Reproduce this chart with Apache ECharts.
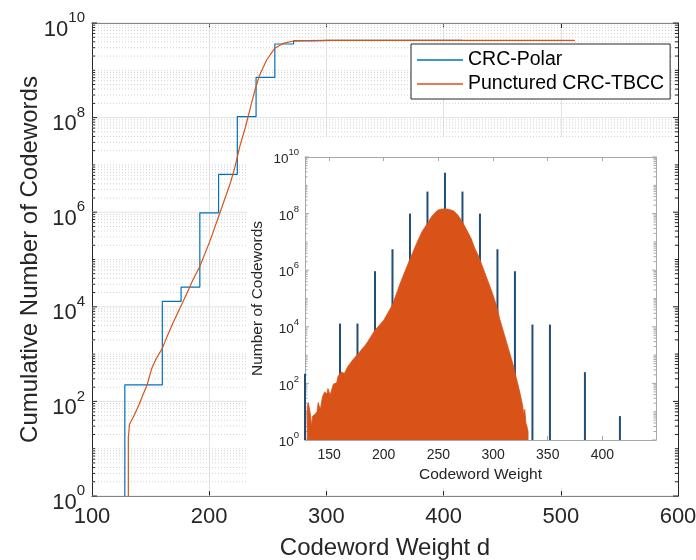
<!DOCTYPE html>
<html><head><meta charset="utf-8">
<script src="https://cdn.jsdelivr.net/npm/echarts/dist/echarts.min.js"></script>
<style>html,body{margin:0;padding:0;background:#fff}#c{width:696px;height:560px}</style>
</head><body><div id="c"></div>
<script>
// ---------- data ----------
const mainXTicks = [100, 200, 300, 400, 500, 600];
const insetXTicks = [150, 200, 250, 300, 350, 400];
const logMajorTicks = [1, 1e2, 1e4, 1e6, 1e8, 1e10];

// Main plot: cumulative number of codewords (CRC-Polar, staircase)
const polarCumWeight = [128, 128, 160, 176, 192, 208, 224, 240, 256, 272, 288, 304, 320, 336, 352, 384, 416];
const polarCumValue  = [1, 224, 13000, 26000, 970000, 6.3e6, 1.05e8, 7.1e8, 3.6e9, 4.2e9, 4.28e9, 4.29e9, 4.29e9, 4.29e9, 4.29e9, 4.29e9, 4.29e9];

// Main plot: cumulative number of codewords (Punctured CRC-TBCC)
const tbccCumWeight = [131, 131, 132, 136, 140, 144, 147, 151, 155, 160, 164, 169, 175, 181, 186, 192, 201, 209, 218, 222, 226, 231, 235, 239, 243, 249, 256, 263, 272, 280, 300, 512];
const tbccCumValue  = [1, 17, 33, 51, 84, 148, 223, 500, 815, 1320, 2340, 4470, 9300, 19400, 37000, 71000, 2.6e5, 9.5e5, 4.1e6, 9.1e6, 2.4e7, 6.4e7, 1.57e8, 3.8e8, 7.9e8, 1.65e9, 2.93e9, 3.7e9, 4.17e9, 4.27e9, 4.29e9, 4.29e9];

// Inset: weight spectrum of CRC-Polar
const polarSpecWeight = [128, 160, 176, 192, 208, 224, 240, 256, 272, 288, 304, 320, 336, 352, 384, 416];
const polarSpecCount  = [220, 13000, 13000, 9.2e5, 5.5e6, 1.0e8, 6.0e8, 2.8e9, 6.0e8, 1.0e8, 5.5e6, 9.2e5, 12000, 12000, 250, 7];

// Inset: weight spectrum of Punctured CRC-TBCC (envelope)
const tbccSpecWeight = [130, 130, 131, 133, 134, 135, 137, 139, 140, 142, 144, 146, 148, 149, 151, 154, 157, 158, 161, 164, 167, 172, 178, 184, 192, 200, 208, 215, 223, 230, 235, 240, 244, 249, 252, 256, 260, 264, 268, 272, 276, 280, 283, 287, 291, 295, 299, 303, 306, 310, 314, 318, 321, 324, 327, 328, 329, 330, 331, 332, 332];
const tbccSpecCount  = [1, 15, 21, 8, 3, 7, 8, 10, 21, 12, 34, 50, 42, 66, 39, 95, 105, 170, 255, 225, 385, 700, 1300, 2450, 7600, 17000, 60000, 3.4e5, 2.0e6, 8.7e6, 2.3e7, 4.6e7, 8.0e7, 1.3e8, 1.42e8, 1.48e8, 1.4e8, 1.23e8, 8.7e7, 5.0e7, 2.6e7, 1.3e7, 6.3e6, 2.95e6, 1.15e6, 4.4e5, 1.7e5, 5.8e4, 1.95e4, 5800, 1700, 510, 170, 58, 17, 8, 12, 4, 3, 2, 1];

// log-axis decoration: mantissas of the minor ticks, and decades of the axes
const minorMantissa = [1, 2, 3, 4, 5, 6, 7, 8, 9];
const decadeExponents = [0, 1, 2, 3, 4, 5, 6, 7, 8, 9];

// ---------- helpers ----------
const pair = (xs, ys) => xs.map((x, i) => [x, ys[i]]);
const logTickItems = logMajorTicks.map(v => [v, 1]);
decadeExponents.forEach(e => minorMantissa.forEach(m => {
  if (m === 1 && e % 2 === 0) return; // major (labelled) decades
  logTickItems.push([m * Math.pow(10, e), 0]);
}));

const FONT = 'Liberation Sans, Arial, Helvetica, sans-serif';
const TXT = '#262626';
const BLUE = '#0072BD';
const ORANGE = '#D95319';
const NAVY = '#1f4e79';
const INSET_AX = '#a8a8a8';

function logLabel(baseSize, supSize, lh) {
  return {
    customValues: logMajorTicks,
    formatter: v => {
      const e = Math.round(Math.log10(v));
      if (e % 2 !== 0) return '';
      return '{b|10}{s|' + e + '}';
    },
    rich: {
      b: { fontSize: baseSize, fontFamily: FONT, color: TXT, lineHeight: lh, verticalAlign: 'bottom' },
      s: { fontSize: supSize, fontFamily: FONT, color: TXT, lineHeight: supSize, verticalAlign: 'top' }
    }
  };
}

// draws the log-axis ticks (both sides) and, for the main plot, the grid lines
function logTickRender(xMin, xMax, withGrid, majorLen, minorLen, color) {
  return function (params, api) {
    const v = api.value(0);
    const major = api.value(1) === 1;
    const a = api.coord([xMin, v]);
    const b = api.coord([xMax, v]);
    const len = major ? majorLen : minorLen;
    const children = [];
    if (withGrid) {
      children.push({ type: 'line', shape: { x1: a[0], y1: a[1], x2: b[0], y2: b[1] },
        style: major ? { stroke: '#e2e2e2', lineWidth: 1 } : { stroke: '#d2d2d2', lineWidth: 1, lineDash: [1, 2] } });
    }
    children.push({ type: 'line', shape: { x1: a[0], y1: a[1], x2: a[0] + len, y2: a[1] },
      style: { stroke: color, lineWidth: 1 } });
    children.push({ type: 'line', shape: { x1: b[0], y1: b[1], x2: b[0] - len, y2: b[1] },
      style: { stroke: color, lineWidth: 1 } });
    return { type: 'group', children };
  };
}

const chart = echarts.init(document.getElementById('c'), null, { renderer: 'canvas' });

const option = {
  animation: false,
  backgroundColor: '#fff',
  textStyle: { fontFamily: FONT },
  grid: [
    { left: 92, top: 23, width: 586, height: 473, outerBoundsMode: 'none', containLabel: false },
    { left: 305, top: 157, width: 351, height: 283, z: 5, outerBoundsMode: 'none', containLabel: false }
  ],
  graphic: [
    { type: 'rect', left: 247, top: 137, shape: { width: 426, height: 351 }, style: { fill: '#fff' }, z: 3, silent: true }
  ],
  legend: {
    data: ['CRC-Polar', 'Punctured CRC-TBCC'],
    orient: 'vertical', left: 411, top: 44,
    icon: 'rect', itemWidth: 46, itemHeight: 1.5, itemGap: 4, itemTextGap: 5,
    padding: [6, 6, 5, 6],
    backgroundColor: '#fff', borderColor: TXT, borderWidth: 1, borderRadius: 0,
    textStyle: { fontSize: 19.5, color: '#000', fontFamily: FONT },
    z: 10
  },
  xAxis: [
    { gridIndex: 0, type: 'value', min: 100, max: 600, interval: 100,
      axisLine: { lineStyle: { color: TXT, width: 1 } },
      axisTick: { inside: true, length: 5, lineStyle: { color: TXT } },
      axisLabel: { fontSize: 22, color: TXT, margin: 10, fontFamily: FONT },
      splitLine: { show: true, lineStyle: { color: '#e2e2e2', width: 1 } },
      name: 'Codeword Weight d', nameLocation: 'middle', nameGap: 40, nameMoveOverlap: false,
      nameTextStyle: { fontSize: 24, color: TXT, fontFamily: FONT } },
    { gridIndex: 0, type: 'value', position: 'top', min: 100, max: 600, interval: 100,
      axisLine: { lineStyle: { color: TXT, width: 1 } },
      axisTick: { inside: true, length: 5, lineStyle: { color: TXT } },
      axisLabel: { show: false }, splitLine: { show: false } },
    { gridIndex: 1, type: 'value', min: 128, max: 449, z: 5,
      axisLine: { lineStyle: { color: INSET_AX, width: 1 } },
      axisTick: { inside: true, length: 4, lineStyle: { color: INSET_AX } },
      axisLabel: { fontSize: 14, color: TXT, margin: 8, fontFamily: FONT, showMinLabel: false, showMaxLabel: false,
        formatter: v => insetXTicks.indexOf(v) >= 0 ? String(v) : '' },
      splitLine: { show: false },
      name: 'Codeword Weight', nameLocation: 'middle', nameGap: 27, nameMoveOverlap: false,
      nameTextStyle: { fontSize: 15.5, color: TXT, fontFamily: FONT } },
    { gridIndex: 1, type: 'value', position: 'top', min: 128, max: 449, z: 5,
      axisLine: { lineStyle: { color: INSET_AX, width: 1 } },
      axisTick: { inside: true, length: 4, lineStyle: { color: INSET_AX } },
      axisLabel: { show: false }, splitLine: { show: false } }
  ],
  yAxis: [
    Object.assign({ gridIndex: 0, type: 'log', logBase: 10, min: 1, max: 1e10,
      axisLine: { show: true, lineStyle: { color: TXT, width: 1 } },
      axisTick: { show: false },
      splitLine: { show: false },
      name: 'Cumulative Number of Codewords', nameLocation: 'middle', nameGap: 50, nameMoveOverlap: false,
      nameTextStyle: { fontSize: 24, color: TXT, fontFamily: FONT } },
      { axisLabel: Object.assign({ margin: 7, padding: [5, 0, 0, 0] }, logLabel(22, 15, 30)) }),
    { gridIndex: 0, type: 'log', logBase: 10, min: 1, max: 1e10, position: 'right',
      axisLine: { show: true, lineStyle: { color: TXT, width: 1 } },
      axisTick: { show: false }, axisLabel: { show: false }, splitLine: { show: false } },
    Object.assign({ gridIndex: 1, type: 'log', logBase: 10, min: 1, max: 1e10, z: 5,
      axisLine: { show: true, lineStyle: { color: INSET_AX, width: 1 } },
      axisTick: { show: false },
      splitLine: { show: false },
      name: 'Number of Codewords', nameLocation: 'middle', nameGap: 39, nameMoveOverlap: false,
      nameTextStyle: { fontSize: 15.5, color: TXT, fontFamily: FONT } },
      { axisLabel: Object.assign({ margin: 6 }, logLabel(13.5, 9.5, 19)) }),
    { gridIndex: 1, type: 'log', logBase: 10, min: 1, max: 1e10, position: 'right', z: 5,
      axisLine: { show: true, lineStyle: { color: INSET_AX, width: 1 } },
      axisTick: { show: false }, axisLabel: { show: false }, splitLine: { show: false } }
  ],
  series: [
    { name: 'mainTicks', type: 'custom', xAxisIndex: 0, yAxisIndex: 0, z: 1, silent: true,
      renderItem: logTickRender(100, 600, true, 5, 3, TXT), data: logTickItems, encode: { y: 0 } },
    { name: 'CRC-Polar', type: 'line', xAxisIndex: 0, yAxisIndex: 0, step: 'end', z: 2,
      data: pair(polarCumWeight, polarCumValue), symbol: 'none', clip: true,
      lineStyle: { color: BLUE, width: 1.2 }, itemStyle: { color: BLUE } },
    { name: 'Punctured CRC-TBCC', type: 'line', xAxisIndex: 0, yAxisIndex: 0, z: 2,
      data: pair(tbccCumWeight, tbccCumValue), symbol: 'none', clip: true,
      lineStyle: { color: ORANGE, width: 1.2 }, itemStyle: { color: ORANGE } },
    { name: 'insetTicks', type: 'custom', xAxisIndex: 2, yAxisIndex: 2, z: 6, silent: true,
      renderItem: logTickRender(128, 449, false, 4, 2.5, INSET_AX), data: logTickItems, encode: { y: 0 } },
    { name: 'Polar spectrum', type: 'custom', xAxisIndex: 2, yAxisIndex: 2, z: 7, silent: true,
      data: pair(polarSpecWeight, polarSpecCount), encode: { x: 0, y: 1 },
      renderItem: (params, api) => {
        const p1 = api.coord([api.value(0), 1]);
        const p2 = api.coord([api.value(0), api.value(1)]);
        return { type: 'rect', shape: { x: p1[0] - 1, y: p2[1], width: 2, height: p1[1] - p2[1] },
          style: { fill: NAVY } };
      } },
    { name: 'TBCC spectrum', type: 'line', xAxisIndex: 2, yAxisIndex: 2, z: 8, silent: true,
      data: pair(tbccSpecWeight, tbccSpecCount), symbol: 'none', clip: true,
      lineStyle: { color: ORANGE, width: 0.8 },
      areaStyle: { color: ORANGE, opacity: 1, origin: 'start' } }
  ]
};
chart.setOption(option);
</script>
</body></html>
